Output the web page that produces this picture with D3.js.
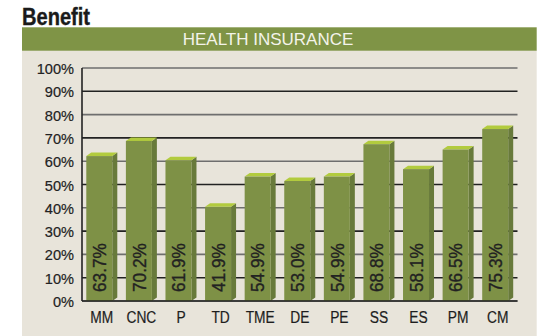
<!DOCTYPE html>
<html><head><meta charset="utf-8">
<script src="https://cdn.jsdelivr.net/npm/d3@7"></script>
<style>
html,body{margin:0;padding:0;background:#fff;}
svg{display:block;}
</style></head>
<body>
<svg id="c" width="542" height="336"></svg>
<script>
const categories = ["MM","CNC","P","TD","TME","DE","PE","SS","ES","PM","CM"];
const values = [63.7,70.2,61.9,41.9,54.9,53.0,54.9,68.8,58.1,66.5,75.3];
const yTicks = [0,10,20,30,40,50,60,70,80,90,100];
const title = "Benefit";
const subtitle = "HEALTH INSURANCE";

const svg = d3.select("#c");
const font = "'Liberation Sans', Arial, Helvetica, sans-serif";

function condense(sel, f){
  sel.each(function(){
    const w = this.getComputedTextLength();
    d3.select(this).attr("textLength", w*f).attr("lengthAdjust","spacingAndGlyphs");
  });
}

// panel
svg.append("rect").attr("x",22).attr("y",50).attr("width",514.7).attr("height",286).attr("fill","#e8e4da");
svg.append("rect").attr("x",22).attr("y",27.3).attr("width",514.7).attr("height",23.4).attr("fill","#7f9446");
svg.append("text").attr("x",22).attr("y",24.5).attr("font-family",font).attr("font-weight","bold")
  .attr("font-size",23.5).attr("fill","#1a1a1a").attr("stroke","#1a1a1a").attr("stroke-width",0.4)
  .attr("textLength",68).attr("lengthAdjust","spacingAndGlyphs").text(title);
svg.append("text").attr("x",268).attr("y",44.5).attr("text-anchor","middle").attr("font-family",font)
  .attr("font-size",17).attr("fill","#f3f3ea").text(subtitle);

const x = d3.scaleBand().domain(categories).range([82,517.5]).padding(0);
const y = d3.scaleLinear().domain([0,100]).range([301,68]);

// gridlines
const g = svg.append("g");
g.selectAll("line.grid").data(yTicks).join("line")
  .attr("x1",82).attr("x2",517.5)
  .attr("y1",d=>y(d)).attr("y2",d=>y(d))
  .attr("stroke",(d,i)=> i%2? "#222":"#6e6e6e").attr("stroke-width",1.6);

// y axis labels via d3 axis
const yAxis = d3.axisLeft(y).tickValues(yTicks).tickFormat(d=>d+"%").tickSize(0).tickPadding(8);
const ya = svg.append("g").attr("transform","translate(82,0)").call(yAxis);
ya.select(".domain").remove();
ya.selectAll("text").attr("font-family",font).attr("font-size",15.5).attr("fill","#222")
  .attr("stroke","#222").attr("stroke-width",0.2).attr("dy","0.36em");
condense(ya.selectAll("text"), 0.94);

// x axis labels
const xAxis = d3.axisBottom(x).tickSize(0).tickPadding(8);
const xa = svg.append("g").attr("transform","translate(0,301)").call(xAxis);
xa.select(".domain").remove();
xa.selectAll("text").attr("font-family",font).attr("font-size",16).attr("fill","#1e1e1e")
  .attr("stroke","#1e1e1e").attr("stroke-width",0.2).attr("dy","0.9em");
condense(xa.selectAll("text"), 0.86);

// bars
const fw = 26, dx = 5, dy = 3.5;
const bars = svg.append("g").selectAll("g").data(categories.map((c,i)=>({c,v:values[i]}))).join("g");
const fx = d => x(d.c) + x.bandwidth()/2 - 15.5;
// side face
bars.append("path").attr("fill","#687a3b").attr("d",d=>{
  const x0=fx(d)+fw, yt=y(d.v)+dy, yb=y(0);
  return `M${x0},${yt} L${x0+dx},${yt-dy} L${x0+dx},${yb-dy} L${x0},${yb} Z`;
});
// top face
bars.append("path").attr("fill","#b2cb3e").attr("d",d=>{
  const x0=fx(d), yt=y(d.v)+dy;
  return `M${x0},${yt} L${x0+dx},${yt-dy} L${x0+fw+dx},${yt-dy} L${x0+fw},${yt} Z`;
});
// front face
bars.append("rect").attr("fill","#7e9146")
  .attr("x",fx).attr("y",d=>y(d.v)+dy).attr("width",fw).attr("height",d=>y(0)-y(d.v)-dy);
// value labels
const vl = bars.append("text").attr("font-family",font).attr("font-size",18.5).attr("fill","#222")
  .attr("stroke","#222").attr("stroke-width",0.35)
  .attr("transform",d=>`translate(${fx(d)+fw/2+6.8},292) rotate(-90)`)
  .text(d=>d.v.toFixed(1)+"%");
condense(vl, 0.93);

// axis lines
svg.append("line").attr("x1",82).attr("x2",82).attr("y1",68).attr("y2",301).attr("stroke","#222").attr("stroke-width",1.6);
svg.append("line").attr("x1",82).attr("x2",517.5).attr("y1",301).attr("y2",301).attr("stroke","#222").attr("stroke-width",1.6);
</script>
</body></html>
